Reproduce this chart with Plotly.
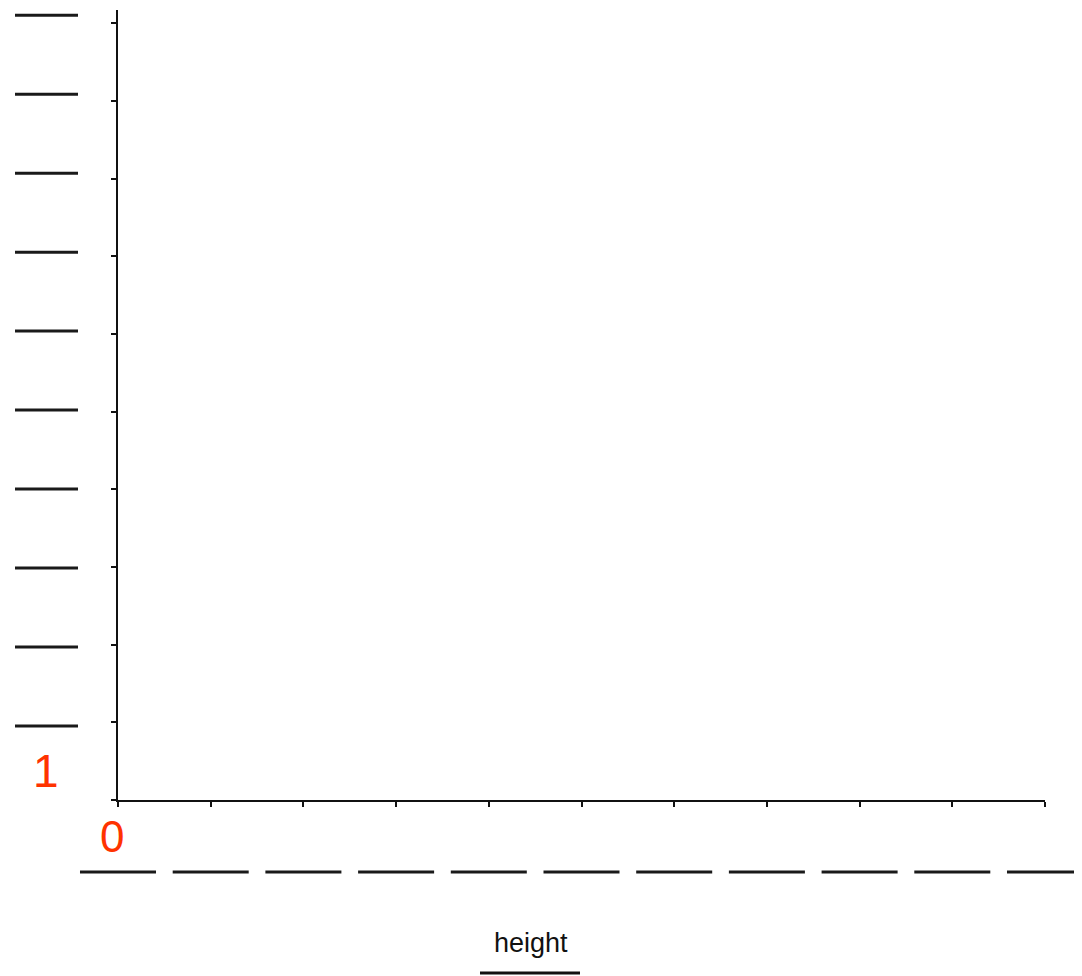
import plotly.graph_objects as go

# Data (axis ticks; chart has no plotted marks)
x_ticks = list(range(0, 11))
y_ticks = list(range(0, 11))
x_label = "height"
red_labels = ["1", "0"]

# page body has an 8px offset; figure is sized to fill the rest of the window
OFF = 8
W, H = 1082 - OFF, 976 - OFF
L, R, T, B = 118 - OFF, 37, 10 - OFF, 176
plot_w = W - L - R
plot_h = H - T - B
x_min, x_max = 0, 10


def px_x(p):
    """window pixel x -> paper x"""
    return (p - 118) / plot_w


def px_y(p):
    """window pixel y -> paper y"""
    return (800 - p) / plot_h


fig = go.Figure()
fig.add_trace(go.Scatter(x=[], y=[], mode="markers", showlegend=False))

shapes = []
# dashes left of y axis, one per y tick
for v in y_ticks:
    yy = -0.064 + 1.0167 * v
    shapes.append(dict(type="line", xref="paper", yref="y",
                       x0=px_x(15), x1=px_x(78), y0=yy, y1=yy,
                       line=dict(color="#1a1a1a", width=3)))
# dashes below x axis, centred on x ticks
ydash = px_y(872)
for v in x_ticks:
    c = (v - x_min) / (x_max - x_min)
    shapes.append(dict(type="line", xref="paper", yref="paper",
                       x0=c - 0.041, x1=c + 0.041, y0=ydash, y1=ydash,
                       line=dict(color="#1a1a1a", width=3)))
# underline below axis title
yu = px_y(973)
shapes.append(dict(type="line", xref="paper", yref="paper",
                   x0=px_x(480), x1=px_x(580), y0=yu, y1=yu,
                   line=dict(color="#111111", width=3)))

annotations = [
    dict(text=red_labels[0], xref="paper", yref="paper",
         x=px_x(46), y=px_y(771), showarrow=False,
         xanchor="center", yanchor="middle",
         font=dict(family="Liberation Sans, Arial", size=46, color="#ff3300")),
    dict(text=red_labels[1], xref="paper", yref="paper",
         x=px_x(112), y=px_y(836), showarrow=False,
         xanchor="center", yanchor="middle",
         font=dict(family="Liberation Sans, Arial", size=44, color="#ff3300")),
    dict(text=x_label, xref="paper", yref="paper",
         x=px_x(531), y=px_y(943), showarrow=False,
         xanchor="center", yanchor="middle",
         font=dict(family="Liberation Sans, Arial", size=27, color="#111111")),
]

fig.update_layout(
    width=W, height=H,
    margin=dict(l=L, r=R, t=T, b=B),
    paper_bgcolor="white", plot_bgcolor="white",
    shapes=shapes, annotations=annotations,
    showlegend=False,
    xaxis=dict(range=[x_min, x_max], tickvals=x_ticks, showgrid=False, zeroline=False,
               showline=True, linecolor="#111111", linewidth=2,
               ticks="outside", ticklen=5, tickwidth=2, tickcolor="#111111",
               showticklabels=False, fixedrange=True),
    yaxis=dict(range=[0, 10.17], tickvals=y_ticks, showgrid=False, zeroline=False,
               showline=True, linecolor="#111111", linewidth=2,
               ticks="outside", ticklen=5, tickwidth=2, tickcolor="#111111",
               showticklabels=False, fixedrange=True),
)

fig.write_html("out.html")
